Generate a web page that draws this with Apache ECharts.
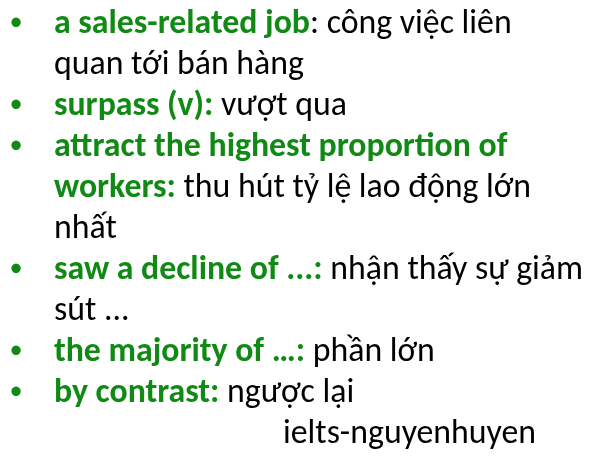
<!DOCTYPE html>
<html>
<head>
<meta charset="utf-8">
<script src="https://cdn.jsdelivr.net/npm/echarts@6/dist/echarts.min.js"></script>
<style>
html,body{margin:0;padding:0;background:#fff;}
#c{width:597px;height:458px;}
</style>
</head>
<body>
<div id="c"></div>
<script>
// ---- content (t = green bold term, m = black meaning) ----
const lineParts = [
  [["t", "a sales-related job"], ["m", ": công việc liên"]],
  [["m", "quan tới bán hàng"]],
  [["t", "surpass (v):"], ["m", " vượt qua"]],
  [["t", "attract the highest proportion of"]],
  [["t", "workers:"], ["m", " thu hút tỷ lệ lao động lớn"]],
  [["m", "nhất"]],
  [["t", "saw a decline of ...:"], ["m", " nhận thấy sự giảm"]],
  [["m", "sút ..."]],
  [["t", "the majority of …:"], ["m", " phần lớn"]],
  [["t", "by contrast:"], ["m", " ngược lại"]]
];
const bulletFlags = [true, false, true, true, false, false, true, false, true, true];
const footerText = "ielts-nguyenhuyen";

// ---- layout / style ----
const FAMILY = 'Carlito, "Open Sans", sans-serif';
const GREEN = '#118a15';
const BLACK = '#000000';
const firstBaseline = 33, lineStep = 41, textX = 54, bulletX = 16;

const cv = document.createElement('canvas').getContext('2d');
cv.font = '100px ' + FAMILY;
const wFooter = cv.measureText(footerText).width;
const FS = Math.round(100 * 253 / wFooter * 10) / 10;
cv.font = FS + 'px ' + FAMILY;
cv.textBaseline = 'middle';
const midOff = cv.measureText('x').actualBoundingBoxDescent;

// bullet glyph sizing: ~9.5px wide dot centred ~11.3px above baseline
cv.font = '100px ' + FAMILY;
let bm = cv.measureText('•');
const bw100 = bm.actualBoundingBoxRight + bm.actualBoundingBoxLeft;
const BFS = 100 * 9.5 / bw100;
cv.font = BFS + 'px ' + FAMILY;
bm = cv.measureText('•');
const bCenterOff = (bm.actualBoundingBoxDescent - bm.actualBoundingBoxAscent) / 2;
const bXOff = (bm.actualBoundingBoxRight - bm.actualBoundingBoxLeft) / 2;

const chart = echarts.init(document.getElementById('c'), null, {renderer: 'canvas'});
const rich = {
  t: {fill: GREEN, fontWeight: 'bold', fontSize: FS, fontFamily: FAMILY, lineHeight: FS * 1.2},
  m: {fill: BLACK, fontWeight: 'normal', fontSize: FS, fontFamily: FAMILY, lineHeight: FS * 1.2}
};
const elements = [];
lineParts.forEach((parts, i) => {
  const yb = firstBaseline + i * lineStep;
  const txt = parts.map(p => '{' + p[0] + '|' + p[1] + '}').join('');
  elements.push({
    type: 'text', x: textX, y: yb - midOff, silent: true,
    style: {text: txt, rich: rich, verticalAlign: 'middle', align: 'left', fontSize: FS, fontFamily: FAMILY}
  });
  if (bulletFlags[i]) {
    elements.push({
      type: 'text', x: bulletX - bXOff, y: yb - 11.3 - bCenterOff, silent: true,
      style: {text: '•', fill: GREEN, fontSize: BFS, fontFamily: FAMILY, align: 'left', verticalAlign: 'middle'}
    });
  }
});
elements.push({
  type: 'text', x: 283, y: firstBaseline + lineParts.length * lineStep - midOff, silent: true,
  style: {text: footerText, fill: BLACK, fontSize: FS, fontFamily: FAMILY, align: 'left', verticalAlign: 'middle'}
});
chart.setOption({backgroundColor: '#ffffff', graphic: {elements: elements}});
</script>
</body>
</html>
